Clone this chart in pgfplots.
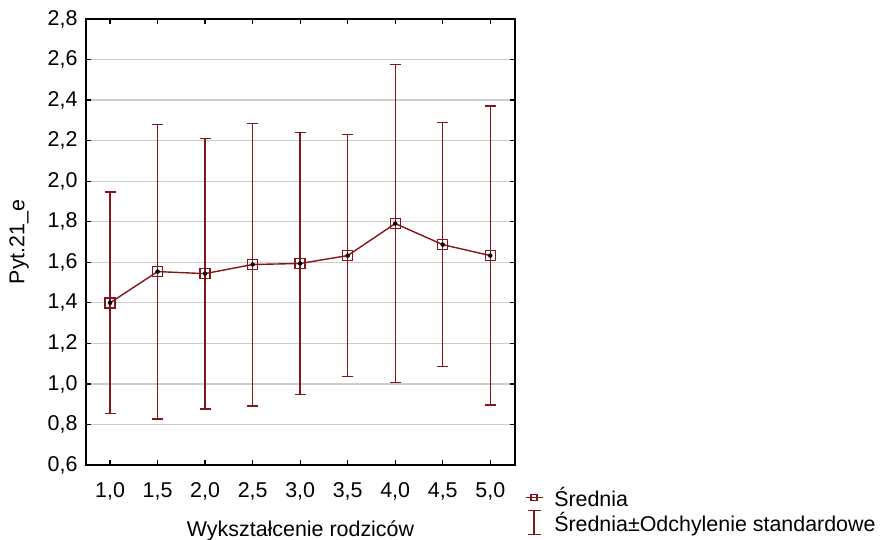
\documentclass[border=0pt]{standalone}
\usepackage{pgfplots}
\pgfplotsset{compat=1.18}
\usepackage{fontspec}
\setmainfont{Liberation Sans}
\definecolor{darkred}{RGB}{130,22,26}
\definecolor{gridgray}{RGB}{205,205,205}
\newcommand{\bigf}{\fontsize{21.5pt}{25pt}\selectfont}
\begin{document}
\begin{tikzpicture}
\path[use as bounding box] (-86bp,-75bp) rectangle (794bp,465bp);
\begin{axis}[
  at={(0,0)}, anchor=south west,
  scale only axis,
  width=429bp, height=446bp,
  xmin=0.747, xmax=5.26,
  ymin=0.6, ymax=2.8,
  xtick={1,1.5,2,2.5,3,3.5,4,4.5,5},
  ytick={0.6,0.8,1.0,1.2,1.4,1.6,1.8,2.0,2.2,2.4,2.6,2.8},
  ymajorgrids,
  grid style={gridgray, line width=1.3pt},
  axis line style={black, line width=1.3pt},
  tick style={black, line width=1.3pt},
  major tick length=5bp,
  tick align=inside,
  /pgf/number format/.cd, use comma, fixed, fixed zerofill, precision=1, assume math mode=true,
  /pgfplots/.cd,
  ticklabel style={font=\bigf},
  xticklabel style={yshift=-14bp},
  yticklabel style={xshift=-5bp},
  xlabel={Wykształcenie rodziców},
  ylabel={Pyt.21\_e},
  label style={font=\bigf},
  xlabel style={yshift=-14bp},
  ylabel style={yshift=12bp},
  legend style={draw=none, fill=none, at={(1.023,-0.045)}, anchor=north west,
    font=\bigf, row sep=0pt, column sep=9bp, inner sep=0pt, outer sep=0pt},
  legend cell align=left,
]
\addplot[only marks, mark=none, forget plot,
  error bars/.cd, y dir=both, y explicit,
  error bar style={draw=darkred, line width=1.4pt},
  error mark=-,
  error mark options={rotate=90, draw=darkred, mark size=5.5bp, line width=1.4pt}]
coordinates {
  (1.0,1.400) +- (0,0.547)
  (1.5,1.554) +- (0,0.727)
  (2.0,1.544) +- (0,0.668)
  (2.5,1.589) +- (0,0.697)
  (3.0,1.594) +- (0,0.645)
  (3.5,1.633) +- (0,0.597)
  (4.0,1.791) +- (0,0.785)
  (4.5,1.687) +- (0,0.601)
  (5.0,1.633) +- (0,0.737)
};
\addplot[darkred, line width=1.4pt, mark=square, mark size=5bp,
  mark options={draw=darkred, line width=1.4pt},
  legend image code/.code={
    \draw[darkred, line width=1.4pt] (0bp,0bp) -- (17bp,0bp);
    \draw[darkred, line width=1.3pt] (5.5bp,-3bp) rectangle (11.5bp,3bp);
  }]
coordinates {
  (1.0,1.400) (1.5,1.554) (2.0,1.544) (2.5,1.589) (3.0,1.594)
  (3.5,1.633) (4.0,1.791) (4.5,1.687) (5.0,1.633)
};
\addlegendentry{Średnia}
\addlegendimage{legend image code/.code={
  \draw[darkred, line width=1.4pt] (8.5bp,-12bp) -- (8.5bp,12bp);
  \draw[darkred, line width=1.4pt] (2bp,-12bp) -- (15bp,-12bp);
  \draw[darkred, line width=1.4pt] (2bp,12bp) -- (15bp,12bp);
}}
\addlegendentry{Średnia±Odchylenie standardowe}
\end{axis}
\end{tikzpicture}
\end{document}
